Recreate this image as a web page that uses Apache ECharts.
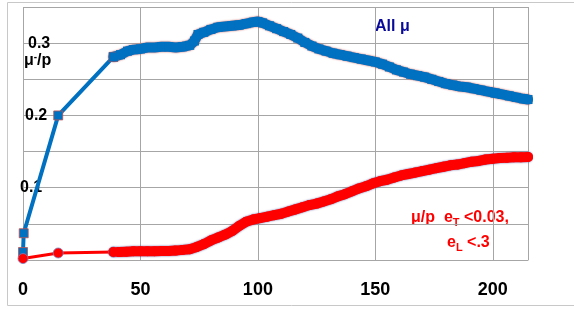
<!DOCTYPE html>
<html>
<head>
<meta charset="utf-8">
<script src="https://cdn.jsdelivr.net/npm/echarts@6/dist/echarts.min.js"></script>
<style>html,body{margin:0;padding:0;background:#fff}#c{width:574px;height:309px}</style>
</head>
<body>
<div id="c"></div>
<script>
const xTicks = [0, 50, 100, 150, 200];
const yLabels = [0.1, 0.2, 0.3];
// All mu: sparse first points, then the dense run
const allMuStart = [[0, 0.011], [0.3, 0.037], [15, 0.2], [38.5, 0.281]];
const allMuMain = [
  [38.5, 0.281], [41.5, 0.284], [44.5, 0.289], [47, 0.291],
  [50, 0.292], [53, 0.294], [56, 0.294], [59, 0.295], [62, 0.295], [65, 0.294], [68, 0.295],
  [71, 0.297], [73, 0.303], [74.5, 0.312], [77, 0.315], [80, 0.319], [83, 0.322], [86, 0.323],
  [89, 0.324], [92, 0.325], [95, 0.327], [98, 0.329], [100, 0.330], [102, 0.328], [105, 0.324],
  [108, 0.320], [111, 0.316], [114, 0.312], [117, 0.307], [120, 0.301], [123, 0.296], [126, 0.292],
  [129, 0.289], [132, 0.286], [135, 0.284], [138, 0.282], [141, 0.280], [144, 0.278], [147, 0.276],
  [150, 0.274], [153, 0.271], [156, 0.267], [159, 0.263], [162, 0.260], [165, 0.257], [168, 0.255],
  [171, 0.253], [174, 0.250], [177, 0.247], [180, 0.244], [183, 0.242], [186, 0.240], [189, 0.239],
  [192, 0.237], [195, 0.235], [198, 0.233], [201, 0.231], [204, 0.229], [207, 0.227], [210, 0.225],
  [213, 0.223], [215, 0.222]
];
// mu/p with cuts: sparse first points, then the dense run
const cutMuStart = [[0, 0.002], [15, 0.0097], [38.5, 0.011]];
const cutMuMain = [
  [38.5, 0.011], [41, 0.011], [44, 0.0115], [47, 0.012], [50, 0.012],
  [53, 0.012], [56, 0.0122], [59, 0.0125], [62, 0.0125], [65, 0.013], [68, 0.014], [71, 0.015],
  [74, 0.018], [77, 0.022], [80, 0.027], [83, 0.031], [86, 0.035], [89, 0.040], [92, 0.047],
  [95, 0.053], [98, 0.056], [101, 0.058], [104, 0.060], [107, 0.062], [110, 0.064], [113, 0.067],
  [116, 0.070], [119, 0.073], [122, 0.076], [125, 0.078], [128, 0.081], [131, 0.084], [134, 0.088],
  [137, 0.091], [140, 0.095], [143, 0.099], [146, 0.102], [149, 0.106], [152, 0.109], [155, 0.111],
  [158, 0.114], [161, 0.117], [164, 0.119], [167, 0.121], [170, 0.123], [173, 0.125], [176, 0.127],
  [179, 0.129], [182, 0.131], [185, 0.132], [188, 0.134], [191, 0.136], [194, 0.137], [197, 0.139],
  [200, 0.140], [203, 0.141], [206, 0.1415], [209, 0.142], [212, 0.142], [215, 0.1425]
];

const chart = echarts.init(document.getElementById('c'), null, {renderer: 'canvas'});
const font = '"Liberation Sans", Arial, sans-serif';
const blueItem = {color: '#0070C0', borderColor: '#C0504D', borderWidth: 0.8};
const redItem = {color: '#FF0000', borderColor: '#7f7fbf', borderWidth: 0.8};
chart.setOption({
  animation: false,
  grid: {left: 23, right: 46, top: 7, bottom: 49, containLabel: false},
  xAxis: {
    type: 'value', min: 0, max: 215, interval: 50,
    axisLine: {show: true, lineStyle: {color: '#a6a6a6', width: 1}},
    axisTick: {show: false},
    splitLine: {show: true, lineStyle: {color: '#a6a6a6', width: 1}},
    axisLabel: {
      color: '#000', fontFamily: font, fontWeight: 'bold', fontSize: 18, margin: 21,
      showMaxLabel: false,
      formatter: v => xTicks.includes(v) ? String(v) : ''
    }
  },
  yAxis: {
    type: 'value', min: 0, max: 0.35, interval: 0.05,
    axisLine: {show: false},
    axisTick: {show: false},
    splitLine: {show: true, lineStyle: {color: '#a6a6a6', width: 1}},
    axisLabel: {
      inside: true, margin: -4, color: '#000', fontFamily: font, fontWeight: 'bold', fontSize: 16,
      formatter: v => {
        const r = Math.round(v * 100) / 100;
        if (!yLabels.includes(r)) return '';
        const k = r === 0.3 ? 'a' : (r === 0.2 ? 'b' : 'c');
        return '{' + k + '|' + r.toFixed(1) + '}';
      },
      rich: {
        a: {fontFamily: font, fontWeight: 'bold', fontSize: 16, color: '#000', padding: [0, 0, 0, 9]},
        b: {fontFamily: font, fontWeight: 'bold', fontSize: 16, color: '#000', padding: [0, 0, 0, 6]},
        c: {fontFamily: font, fontWeight: 'bold', fontSize: 16, color: '#000', padding: [0, 0, 0, 1]}
      }
    }
  },
  series: [
    {
      name: 'All μ', type: 'line', data: allMuStart, symbol: 'rect', symbolSize: 9,
      lineStyle: {color: '#0070C0', width: 4}, itemStyle: blueItem, z: 2
    },
    {
      name: 'All μ ', type: 'line', data: allMuMain, symbol: 'rect', symbolSize: 9,
      lineStyle: {color: '#0070C0', width: 10, join: 'round', cap: 'round', shadowColor: '#C0504D', shadowBlur: 2},
      itemStyle: {color: '#0070C0', borderWidth: 0}, z: 2
    },
    {
      name: 'μ/p cut', type: 'line', data: cutMuStart, symbol: 'circle', symbolSize: 10,
      lineStyle: {color: '#FF0000', width: 3}, itemStyle: redItem, z: 3
    },
    {
      name: 'μ/p cut ', type: 'line', data: cutMuMain, symbol: 'circle', symbolSize: 10,
      lineStyle: {color: '#FF0000', width: 10, join: 'round', cap: 'round', shadowColor: '#5a5aa0', shadowBlur: 2},
      itemStyle: {color: '#FF0000', borderWidth: 0}, z: 3
    }
  ],
  graphic: [
    {type: 'rect', shape: {x: 7.5, y: 2.5, width: 600, height: 303}, style: {fill: 'none', stroke: '#c8c8c8', lineWidth: 1}, silent: true},
    {type: 'text', left: 24, top: 52, style: {
      text: '{m|μ}{s|-}{m|/p}', rich: {
        m: {fontFamily: font, fontWeight: 'bold', fontSize: 16, fill: '#000'},
        s: {fontFamily: font, fontWeight: 'bold', fontSize: 10, fill: '#000', verticalAlign: 'top', padding: [0, 0, 8, 0]}
      }}},
    {type: 'text', left: 375, top: 19, style: {text: 'All μ', fontFamily: font, fontWeight: 'bold', fontSize: 16, fill: '#0a0a9a'}},
    {type: 'text', left: 411, top: 210, style: {
      text: '{m|μ/p  e}{s|T}{m| <0.03,}', rich: {
        m: {fontFamily: font, fontWeight: 'bold', fontSize: 16, fill: '#ff0000'},
        s: {fontFamily: font, fontWeight: 'bold', fontSize: 11, fill: '#ff0000', padding: [10, 0, 0, 0]}
      }}},
    {type: 'text', left: 447, top: 235, style: {
      text: '{m|e}{s|L}{m| <.3}', rich: {
        m: {fontFamily: font, fontWeight: 'bold', fontSize: 16, fill: '#ff0000'},
        s: {fontFamily: font, fontWeight: 'bold', fontSize: 11, fill: '#ff0000', padding: [10, 0, 0, 0]}
      }}}
  ]
});
</script>
</body>
</html>
